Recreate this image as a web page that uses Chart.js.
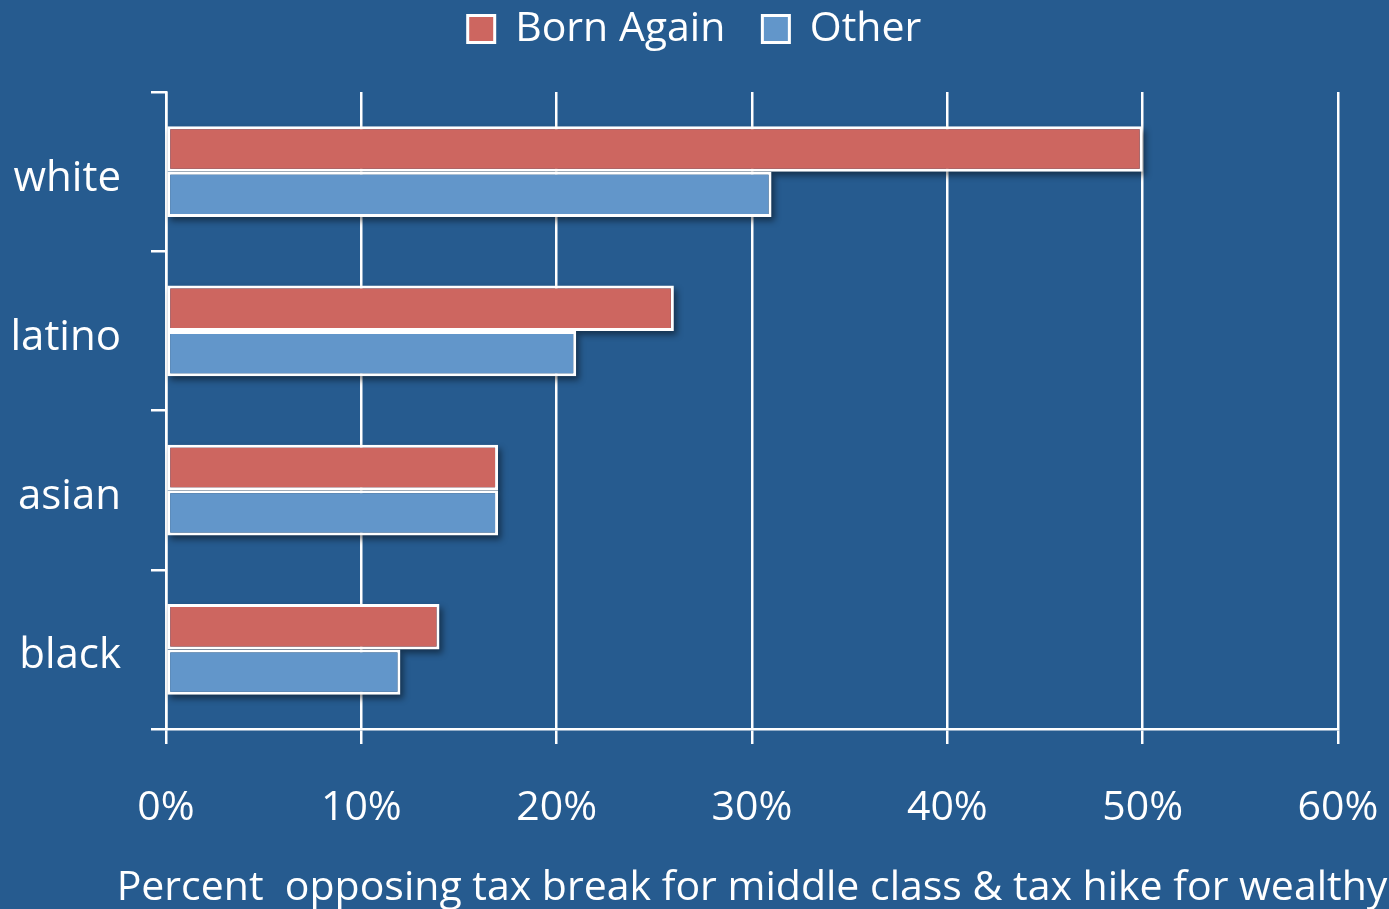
<!DOCTYPE html>
<html>
<head>
<meta charset="utf-8">
<script src="https://cdn.jsdelivr.net/npm/chart.js@4.4.1/dist/chart.umd.min.js"></script>
<style>
  html, body { margin: 0; padding: 0; background: #265B8F; }
  #wrap { width: 1389px; height: 909px; position: relative; }
</style>
</head>
<body>
<div id="wrap"><canvas id="c"></canvas></div>
<script>
const categories = ['white', 'latino', 'asian', 'black'];
const seriesNames = ['Born Again', 'Other'];
const bornAgain = [50, 26, 17, 14];
const other = [31, 21, 17, 12];
const xMin = 0;
const xMax = 60;
const xStep = 10;
const xTickSuffix = '%';
const xAxisTitle = 'Percent  opposing tax break for middle class & tax hike for wealthy';

const WHITE = '#FFFFFF';
const RED = '#CD6660';
const BLUE = '#6296CA';
const FONT = "'Open Sans', sans-serif";

Chart.defaults.font.family = FONT;
Chart.defaults.font.size = 41;
Chart.defaults.color = WHITE;

const legendSpacing = {
  id: 'legendSpacing',
  beforeInit(chart) {
    const fit = chart.legend.fit;
    chart.legend.fit = function () { fit.call(this); this.height += 32.5; };
  }
};

// soft drop shadow behind the bars, positioned from the bar elements themselves
const barShadow = {
  id: 'barShadow',
  beforeDatasetsDraw(chart) {
    const ctx = chart.ctx;
    ctx.save();
    ctx.filter = 'blur(3px)';
    ctx.fillStyle = 'rgba(0,0,0,0.45)';
    chart.getSortedVisibleDatasetMetas().forEach(meta => {
      meta.data.forEach(el => {
        const p = el.getProps(['x', 'y', 'base', 'height'], true);
        ctx.fillRect(Math.min(p.base, p.x) + 3, p.y - p.height / 2 + 4, Math.abs(p.x - p.base), p.height);
      });
    });
    ctx.restore();
  }
};

const axisTitle = {
  id: 'axisTitle',
  afterDraw(chart) {
    const {ctx, chartArea} = chart;
    const xs = chart.scales.x;
    ctx.save();
    ctx.font = '41px ' + FONT;
    ctx.fillStyle = WHITE;
    ctx.textAlign = 'center';
    ctx.textBaseline = 'middle';
    ctx.fillText(xAxisTitle, (chartArea.left + chartArea.right) / 2, xs.bottom - 21);
    ctx.restore();
  }
};

new Chart(document.getElementById('c'), {
  type: 'bar',
  data: {
    labels: categories,
    datasets: [
      { label: seriesNames[0], data: bornAgain, backgroundColor: RED },
      { label: seriesNames[1], data: other, backgroundColor: BLUE }
    ]
  },
  options: {
    indexAxis: 'y',
    responsive: true,
    maintainAspectRatio: false,
    animation: false,
    layout: { padding: { top: -28.5, left: 0, right: 0, bottom: 0 } },
    datasets: {
      bar: {
        categoryPercentage: 0.57,
        barPercentage: 1.0,
        borderColor: WHITE,
        borderWidth: 3,
        borderSkipped: false
      }
    },
    plugins: {
      legend: {
        position: 'top',
        labels: { boxWidth: 27, boxHeight: 27, padding: 37, color: WHITE, font: { size: 41 } }
      },
      tooltip: { enabled: false }
    },
    scales: {
      x: {
        type: 'linear',
        position: 'bottom',
        min: xMin, max: xMax,
        ticks: { stepSize: xStep, padding: 5, color: WHITE, font: { size: 41, lineHeight: 2.88 }, callback: v => v + xTickSuffix },
        grid: { color: WHITE, lineWidth: 2.5, tickLength: 15, drawOnChartArea: true, drawTicks: true },
        border: { color: WHITE, width: 2.5 },
        afterFit(s) { s.height = 180; }
      },
      y: {
        type: 'category',
        position: 'left',
        ticks: { padding: 30, color: WHITE, labelOffset: 7, font: { size: 42 } },
        grid: { color: WHITE, lineWidth: 2.5, tickLength: 15, drawOnChartArea: false, offset: true },
        border: { color: WHITE, width: 2.5 },
        afterFit(s) { s.width = 166; }
      },
      yRight: {
        type: 'linear',
        position: 'right',
        display: true,
        ticks: { display: false },
        grid: { display: false },
        border: { display: false },
        afterFit(s) { s.width = 51; }
      }
    }
  },
  plugins: [legendSpacing, barShadow, axisTitle]
});
</script>
</body>
</html>
